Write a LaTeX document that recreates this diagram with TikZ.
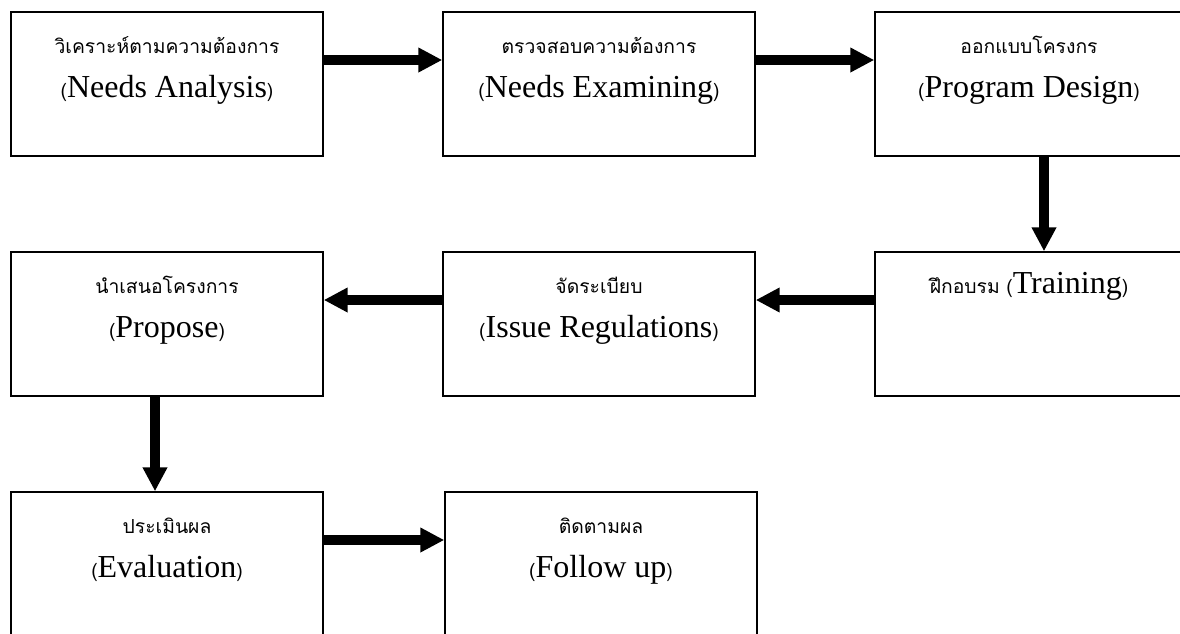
\documentclass[tikz,border=0pt]{standalone}
\usepackage{fontspec}
\setmainfont{Liberation Serif}
\newfontfamily\thaifont[Script=Thai]{Loma}
\usetikzlibrary{arrows.meta}

\tikzset{
  stepbox/.style={rectangle, draw, line width=1.1pt, minimum width=234pt, minimum height=108pt, inner sep=0pt},
  thline/.style={anchor=base, inner sep=0pt, font=\thaifont\fontsize{14.5}{16}\selectfont},
  enline/.style={anchor=base, inner sep=0pt, font=\fontsize{24}{27}\selectfont},
  flow/.style={-{Triangle[length=18pt,width=17.5pt]}, line width=6.8pt},
}
\newcommand{\tp}[1]{{\thaifont\fontsize{14.5}{16}\selectfont #1}}

\begin{document}
\begin{tikzpicture}[x=0.75pt, y=-0.75pt]
        \useasboundingbox (0,0) rectangle (1180,633);

        \node[stepbox] (analysis) at (167,84) {};
        \node[thline] (analysis-th) at (167,53) {วิเคราะห์ตามความต้องการ};
        \node[enline] (analysis-en) at (167,97) {\tp{(}Needs Analysis\tp{)}};

        \node[stepbox] (examining) at (599,84) {};
        \node[thline] (examining-th) at (599,53) {ตรวจสอบความต้องการ};
        \node[enline] (examining-en) at (599,97) {\tp{(}Needs Examining\tp{)}};

        \node[stepbox] (design) at (1031,84) {};
        \node[thline] (design-th) at (1029,53) {ออกแบบโครงกร};
        \node[enline] (design-en) at (1029,97) {\tp{(}Program Design\tp{)}};

        \node[stepbox] (training) at (1031,324) {};
        \node[enline] (training-t) at (1029,293) {\tp{ฝึกอบรม (}Training\tp{)}};

        \node[stepbox] (regulations) at (599,324) {};
        \node[thline] (regulations-th) at (599,293) {จัดระเบียบ};
        \node[enline] (regulations-en) at (599,337) {\tp{(}Issue Regulations\tp{)}};

        \node[stepbox] (propose) at (167,324) {};
        \node[thline] (propose-th) at (167,293) {นำเสนอโครงการ};
        \node[enline] (propose-en) at (167,337) {\tp{(}Propose\tp{)}};

        \node[stepbox] (evaluation) at (167,564) {};
        \node[thline] (evaluation-th) at (167,533) {ประเมินผล};
        \node[enline] (evaluation-en) at (167,577) {\tp{(}Evaluation\tp{)}};

        \node[stepbox] (followup) at (601,564) {};
        \node[thline] (followup-th) at (601,533) {ติดตามผล};
        \node[enline] (followup-en) at (601,577) {\tp{(}Follow up\tp{)}};

        % Flow between steps
        \draw[flow] ([yshift=18pt]analysis.east) -- ([yshift=18pt]examining.west);
        \draw[flow] ([yshift=18pt]examining.east) -- ([yshift=18pt]design.west);
        \draw[flow] ([xshift=9.75pt]design.south) -- ([xshift=9.75pt]training.north);
        \draw[flow] ([yshift=18pt]training.west) -- ([yshift=18pt]regulations.east);
        \draw[flow] ([yshift=18pt]regulations.west) -- ([yshift=18pt]propose.east);
        \draw[flow] ([xshift=-9pt]propose.south) -- ([xshift=-9pt]evaluation.north);
        \draw[flow] ([yshift=18pt]evaluation.east) -- ([yshift=18pt]followup.west);
\end{tikzpicture}
\end{document}
